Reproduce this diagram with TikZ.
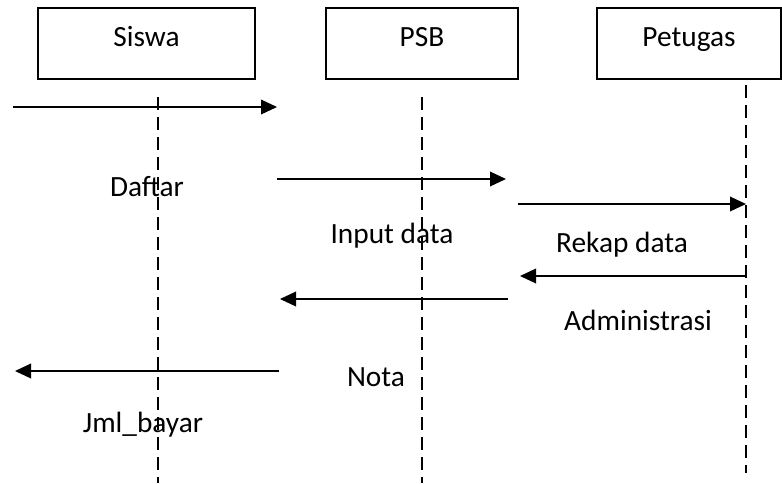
\documentclass[tikz,border=0pt]{standalone}
\usepackage{fontspec}
\setmainfont{Carlito}
\usetikzlibrary{arrows.meta}
\begin{document}
\begin{tikzpicture}[x=0.75pt, y=-0.75pt,
    actor/.style={draw=black, line width=0.8pt, minimum height=71*0.75pt, inner sep=0pt, text height=0.65em, text depth=0.2em, font=\fontsize{22}{26}\selectfont},
    life/.style={line width=0.8pt, dash pattern=on 10pt off 5pt},
    msg/.style={line width=1pt, -{Triangle[length=12pt, width=11pt]}},
    lbl/.style={inner sep=0pt, font=\fontsize{22}{26}\selectfont}]
    \useasboundingbox (0, 0) rectangle (782, 483);

    \node[actor, minimum width=217*0.75pt] (siswa) at (146.5, 43.5) {Siswa};
    \node[actor, minimum width=192*0.75pt] (psb) at (422, 43.5) {PSB};
    \node[actor, minimum width=184*0.75pt] (petugas) at (689, 43.5) {Petugas};

    \coordinate (s-top) at (158, 97);
    \coordinate (s-bot) at (158, 483);
    \coordinate (p-top) at (422, 97);
    \coordinate (p-bot) at (422, 483);
    \coordinate (t-top) at (746, 85);
    \coordinate (t-bot) at (746, 473);

    \node[lbl] (daftar) at (147, 187) {Daftar};
    \node[lbl] (input) at (392, 236) {Input data};
    \node[lbl] (rekap) at (622, 245) {Rekap data};
    \node[lbl] (admin) at (638, 320) {Administrasi};
    \node[lbl] (nota) at (376, 377) {Nota};
    \node[lbl] (jml) at (143, 425) {Jml\_bayar};

    \draw[life] (s-top) -- (s-bot);
    \draw[life] (p-top) -- (p-bot);
    \draw[life] (t-top) -- (t-bot);

    \coordinate (m1-a) at (13, 107);
    \coordinate (m1-b) at (277, 107);
    \coordinate (m2-a) at (277, 179);
    \coordinate (m2-b) at (506, 179);
    \coordinate (m3-a) at (518, 204);
    \coordinate (m3-b) at (746, 204);
    \coordinate (m4-a) at (746, 276);
    \coordinate (m4-b) at (520, 276);
    \coordinate (m5-a) at (508, 299);
    \coordinate (m5-b) at (280, 299);
    \coordinate (m6-a) at (279, 371);
    \coordinate (m6-b) at (15, 371);

    \draw[msg] (m1-a) -- (m1-b);
    \draw[msg] (m2-a) -- (m2-b);
    \draw[msg] (m3-a) -- (m3-b);
    \draw[msg] (m4-a) -- (m4-b);
    \draw[msg] (m5-a) -- (m5-b);
    \draw[msg] (m6-a) -- (m6-b);
\end{tikzpicture}
\end{document}
